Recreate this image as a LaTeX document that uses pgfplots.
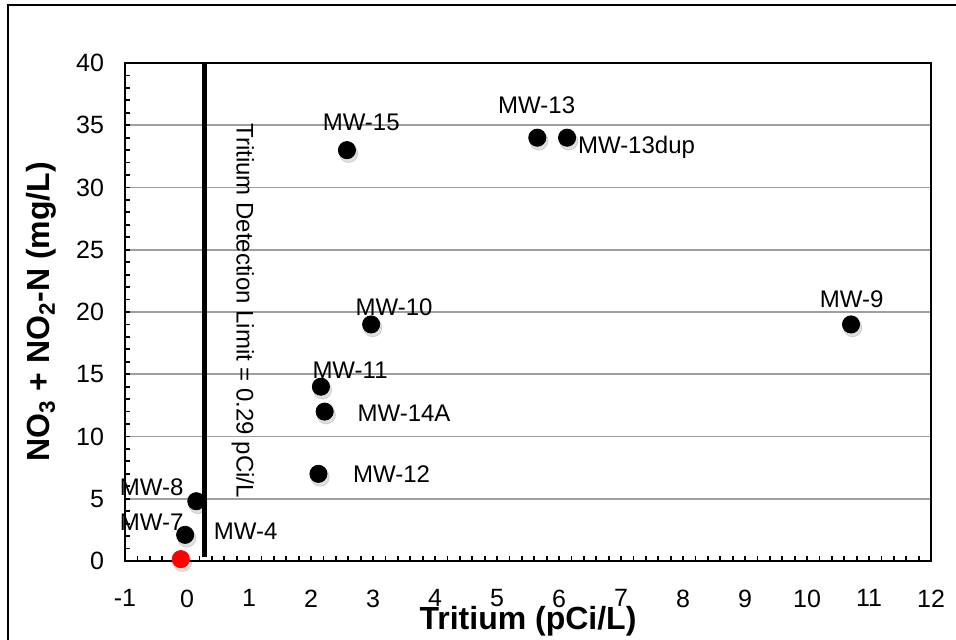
\documentclass[border=0pt]{standalone}
\usepackage{pgfplots}
\pgfplotsset{compat=1.18}
\usepackage{fontspec}
\setmainfont{Liberation Sans}
\begin{document}
\begin{tikzpicture}[x=1pt,y=1pt]
\useasboundingbox (0,0) rectangle (478,320);
\draw[line width=1.1pt] (4,-20) -- (4,317.6) -- (500,317.6);
\begin{axis}[
  at={(62.5pt,39.5pt)}, anchor=south west,
  width=403pt, height=249pt, scale only axis,
  xmin=-1, xmax=12, ymin=0, ymax=40,
  xtick={-1,0,1,2,3,4,5,6,7,8,9,10,11,12},
  xticklabels={-1,0,1,2,3,4,5,6,7,8,9,10,11,12},
  ytick={0,5,10,15,20,25,30,35,40},
  yticklabels={0,5,10,15,20,25,30,35,40},
  minor x tick num=4, minor y tick num=4,
  tick align=inside,
  xtick pos=lower, ytick pos=left,
  major tick length=2.6pt, minor tick length=2.6pt,
  every tick/.style={black, line width=0.9pt},
  ymajorgrids, major grid style={gray!75, line width=0.8pt},
  axis line style={black, line width=1.2pt},
  tick label style={font=\fontsize{12.5}{14}\selectfont},
  xticklabel style={inner sep=0pt, yshift=-14.2pt},
  yticklabel style={xshift=-7pt},
  xlabel={\bfseries Tritium (pCi/L)},
  ylabel={\bfseries NO\textsubscript{3} + NO\textsubscript{2}-N (mg/L)},
  label style={font=\fontsize{16}{18}\selectfont},
  xlabel style={inner sep=0pt, yshift=1pt},
  ylabel style={yshift=3pt},
  clip=false,
]
% detection limit line
\addplot[black, line width=2.5pt, forget plot] coordinates {(0.29,0.3) (0.29,40)};
% shadows
\addplot[only marks, mark=*, mark size=4.6pt, color=black, opacity=0.12,
  mark options={xshift=0.8pt, yshift=-1.6pt}, forget plot] coordinates {
  (0.15,4.8) (-0.03,2.1) (2.58,33) (5.65,34) (6.13,34) (10.71,19)
  (2.97,19) (2.16,14) (2.22,12) (2.12,7) (-0.1,0.15)};
% black wells
\addplot[only marks, mark=*, mark size=4.3pt, color=black] coordinates {
  (0.15,4.8) (-0.03,2.1) (2.58,33) (5.65,34) (6.13,34) (10.71,19)
  (2.97,19) (2.16,14) (2.22,12) (2.12,7)};
% red point
\addplot[only marks, mark=*, mark size=4.3pt, color=red, mark options={fill=red}] coordinates {(-0.1,0.15)};
% labels
\begin{scope}[every node/.style={font=\fontsize{12}{14}\selectfont, inner sep=0pt}]
\node at (axis cs:2.81,35.2) {MW-15};
\node at (axis cs:5.64,36.6) {MW-13};
\node at (axis cs:7.25,33.2) {MW-13dup};
\node at (axis cs:10.72,21.0) {MW-9};
\node at (axis cs:3.34,20.4) {MW-10};
\node at (axis cs:2.63,15.35) {MW-11};
\node at (axis cs:3.5,11.9) {MW-14A};
\node at (axis cs:3.3,7.0) {MW-12};
\node at (axis cs:-0.57,5.94) {MW-8};
\node at (axis cs:-0.57,3.13) {MW-7};
\node at (axis cs:0.945,2.4) {MW-4};
\node[rotate=-90] at (axis cs:0.9,20.1) {Tritium Detection Limit = 0.29 pCi/L};
\end{scope}
\end{axis}
\end{tikzpicture}
\end{document}
